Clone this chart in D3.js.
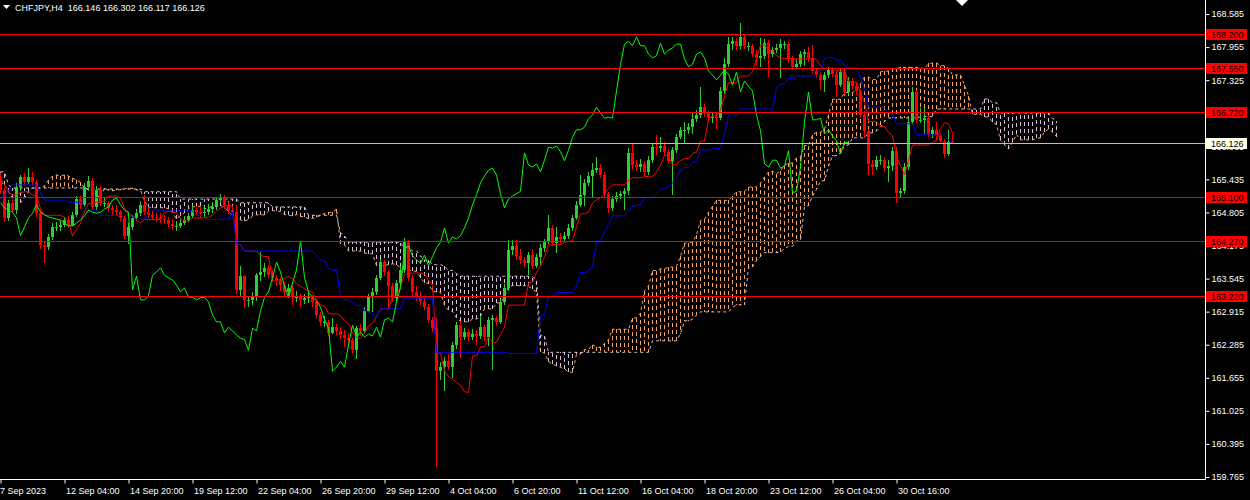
<!DOCTYPE html>
<html>
<head>
<meta charset="utf-8">
<script src="https://cdn.jsdelivr.net/npm/d3@7"></script>
<style>
html, body { margin: 0; padding: 0; background: #000; overflow: hidden; }
svg { display: block; }
text { font-family: "Liberation Sans", Arial, sans-serif; font-size: 9px; }
</style>
</head>
<body>
<div id="chart"></div>
<script>
// CHFJPY H4 bars (open = previous close)
const symbol = 'CHFJPY,H4'
const lastOHLC = [166.146, 166.302, 166.117, 166.126]
const firstOpen = 165.48

const closes = [
  165.23,164.70,164.99,164.85,165.29,165.48,165.39,165.48,165.39,164.79,
  164.18,164.15,164.34,164.53,164.53,164.57,164.66,164.57,164.76,165.06,
  164.95,165.29,165.40,164.91,165.23,164.99,164.99,164.89,164.85,164.81,
  164.70,164.36,164.53,164.70,164.79,164.95,164.81,164.76,164.72,164.70,
  164.68,164.66,164.59,164.55,164.55,164.60,164.66,164.74,164.85,164.81,
  164.79,164.81,164.87,164.91,165.04,165.08,164.95,164.85,164.81,163.33,
  163.59,163.14,163.14,163.21,163.61,163.67,163.75,163.61,163.56,163.52,
  163.42,163.29,163.37,163.19,163.19,163.14,163.18,163.19,163.10,162.85,
  162.72,162.72,162.51,162.62,162.55,162.47,162.41,162.38,162.18,162.60,
  162.55,162.93,163.19,163.29,163.56,163.86,163.67,163.40,163.18,163.46,
  163.71,164.26,163.56,163.29,163.19,163.12,163.00,162.76,162.60,161.78,
  161.86,161.97,161.86,162.28,162.66,162.43,162.53,162.43,162.49,162.45,
  162.62,162.43,162.76,162.79,162.72,163.10,163.37,164.09,164.17,163.98,
  163.90,163.84,163.99,163.79,163.96,164.13,164.24,164.51,164.22,164.34,
  164.30,164.36,164.51,164.70,164.95,165.14,165.37,165.50,165.61,165.65,
  165.52,165.16,164.89,165.06,165.12,165.16,165.21,165.94,165.71,165.67,
  165.73,165.58,165.80,166.05,166.03,166.07,165.96,165.79,165.99,166.24,
  166.38,166.38,166.43,166.59,166.66,166.81,166.70,166.60,166.62,166.60,
  167.12,167.63,168.01,168.07,167.98,168.15,167.98,167.98,167.82,167.75,
  167.79,168.03,167.82,167.90,167.94,168.01,168.01,167.73,167.58,167.63,
  167.82,167.86,167.75,167.50,167.42,167.33,167.42,167.52,167.44,167.23,
  167.48,167.10,167.31,167.21,167.12,166.66,166.36,165.73,165.67,165.80,
  165.80,165.65,165.69,165.98,165.18,165.21,165.67,166.53,167.10,166.57,
  166.57,166.60,166.30,166.38,166.26,166.17,165.92,166.146,166.126
]

const highs = [
  165.55,165.28,165.05,165.06,165.36,165.52,165.55,165.65,165.58,165.42,
  164.86,164.25,164.40,164.60,164.62,164.66,164.72,164.74,164.82,165.12,
  165.12,165.36,165.50,165.46,165.30,165.31,165.10,165.02,164.95,164.94,
  164.86,164.74,164.60,164.76,164.88,165.02,165.14,164.90,164.84,164.80,
  164.80,164.76,164.72,164.66,164.64,164.68,164.74,164.80,164.94,164.92,
  164.90,164.92,164.96,165.00,165.10,165.16,165.14,165.00,164.92,164.95,
  163.78,163.62,163.22,163.28,163.66,164.05,163.85,163.80,163.70,163.62,
  163.58,163.48,163.44,163.42,163.30,163.26,163.26,163.28,163.24,163.14,
  162.90,162.84,162.76,162.80,162.68,162.62,162.56,162.50,162.42,162.64,
  162.68,163.00,163.26,163.36,163.62,163.92,163.90,163.70,163.46,163.52,
  163.78,164.32,164.28,163.62,163.40,163.30,163.18,163.06,162.82,162.79,
  161.95,162.05,162.10,162.34,162.72,162.74,162.60,162.58,162.58,162.56,
  162.84,162.66,162.82,162.86,162.84,163.16,163.44,164.28,164.28,164.28,
  164.10,163.96,164.06,164.10,164.02,164.20,164.30,164.76,164.56,164.52,
  164.42,164.44,164.58,164.76,165.02,165.52,165.44,165.58,165.74,165.86,
  165.72,165.58,165.20,165.12,165.20,165.22,165.28,166.03,166.13,165.80,
  165.82,165.78,165.88,166.12,166.28,166.24,166.14,166.02,166.06,166.30,
  166.44,166.52,166.50,166.72,166.76,167.19,166.88,166.74,166.70,166.72,
  167.20,167.75,168.15,168.14,168.12,168.41,168.20,168.06,168.02,167.90,
  168.12,168.10,168.09,167.96,168.02,168.10,168.08,168.05,167.78,167.72,
  167.88,167.92,167.95,168.00,167.56,167.50,167.48,167.58,167.58,167.50,
  167.56,167.56,167.38,167.36,167.28,167.16,166.74,166.40,165.80,165.88,
  165.90,165.86,165.80,166.05,166.06,165.28,165.74,166.60,167.19,167.14,
  166.80,166.79,166.66,166.44,166.52,166.32,166.20,166.38,166.302
]

const lows = [
  165.15,164.62,164.64,164.80,164.78,165.22,165.33,165.34,165.30,164.72,
  164.10,163.85,164.08,164.28,164.45,164.46,164.52,164.50,164.54,164.72,
  164.88,164.90,165.22,164.85,164.86,164.92,164.90,164.82,164.74,164.74,
  164.64,164.30,164.20,164.48,164.64,164.74,164.76,164.70,164.66,164.62,
  164.60,164.58,164.52,164.48,164.46,164.50,164.56,164.62,164.70,164.74,
  164.70,164.72,164.76,164.80,164.86,164.98,164.88,164.78,164.76,163.25,
  163.22,162.98,163.00,163.05,163.12,163.50,163.58,163.55,163.48,163.40,
  163.30,163.20,163.22,163.04,163.10,163.00,163.06,163.08,163.00,162.80,
  162.64,162.62,162.46,162.48,162.47,162.40,162.24,162.28,162.12,162.02,
  162.45,162.50,162.90,162.90,163.24,163.52,163.60,162.98,163.10,163.12,
  163.40,163.66,163.50,163.22,163.12,163.04,162.94,162.70,162.52,159.96,
  161.62,161.40,161.80,161.65,162.20,162.03,162.38,162.36,162.38,162.28,
  162.40,162.36,162.26,161.80,162.64,162.68,163.04,163.30,164.00,163.90,
  163.82,163.76,163.62,163.72,163.74,163.78,164.06,164.20,164.16,164.04,
  164.22,164.24,164.30,164.46,164.66,164.90,164.92,165.30,165.10,165.56,
  165.46,165.10,164.80,164.84,165.00,165.06,164.86,165.14,165.64,165.60,
  165.58,165.50,165.52,165.74,165.90,165.96,165.90,165.72,165.14,165.94,
  166.20,166.10,166.30,166.30,166.52,166.60,166.62,166.54,166.50,166.40,
  166.56,167.06,167.58,167.90,167.90,167.92,167.92,167.88,167.76,167.62,
  167.58,167.72,167.38,167.76,167.84,167.36,167.92,167.66,167.52,167.54,
  167.58,167.60,167.68,167.44,167.36,167.14,167.10,167.36,167.38,167.00,
  167.20,167.04,167.04,167.14,167.04,166.60,166.22,165.52,165.52,165.62,
  165.70,165.58,165.38,165.60,164.99,165.10,165.16,165.62,166.48,166.50,
  166.50,166.30,166.24,166.22,166.18,166.10,165.84,165.88,166.117
]

// Ichimoku values at the left edge, whose windows reach before the first bar
const tenkanLead = [165.46,165.33,165.20,165.14,165.14,165.18,165.20,165.20]
const kijunLead = [165.08,165.12,165.23,165.33,165.33,165.33,165.33,165.33,165.33,165.33,
  165.18,165.04,165.04,165.04,165.04,165.04,165.04,165.00,165.00,165.00,165.00,164.93,164.85,164.85,164.85]
const spanALead = [165.39,165.33,165.20,165.08,165.00,164.99,165.08,165.20,165.27,165.27,
  165.27,165.31,165.42,165.50,165.52,165.50,165.52,165.50,165.46,165.42,165.38,165.27,165.23,165.20,165.14,165.08]
const spanBLead = [165.58,165.58,165.33,165.27,165.27,165.27,165.27,165.27,165.27,165.27,
  165.27,165.27,165.27,165.27,165.27,165.27,165.27,165.27,165.27,165.27,165.27,165.27,
  165.25,165.25,165.25,165.25,165.25,165.25,165.25,165.25,165.25,165.25,165.25,165.25,165.25,165.25,
  165.20,165.20,165.20,165.20,165.20,165.20,165.20,165.20,165.20,
  165.06,165.06,165.06,165.06,165.06,165.06,165.06,165.06,165.06,165.06,165.06,165.06,165.06,165.06,165.06,
  164.99,164.99,164.99,164.99,164.99,164.99,164.99,164.99,
  164.91,164.91,164.91,164.91,164.91,164.91,164.91,164.91,164.91]

const levels = [168.200, 167.550, 166.720, 165.100, 164.270, 163.220]
const priceTicks = [168.585, 167.955, 167.325, 166.695, 166.065, 165.435, 164.805, 164.175,
  163.545, 162.915, 162.285, 161.655, 161.025, 160.395, 159.765]
const dateTicks = [0, 16, 32, 48, 64, 80, 96, 112, 128, 144, 160, 176, 192, 208, 224]
const dateLabels = ['7 Sep 2023', '12 Sep 04:00', '14 Sep 20:00', '19 Sep 12:00', '22 Sep 04:00',
  '26 Sep 20:00', '29 Sep 12:00', '4 Oct 04:00', '6 Oct 20:00', '11 Oct 12:00', '16 Oct 04:00',
  '18 Oct 20:00', '23 Oct 12:00', '26 Oct 04:00', '30 Oct 16:00']

const w = 1250
const h = 500
const plotW = 1205
const plotH = 479
const bullColor = '#32cd32'
const bearColor = '#ff0000'

const xScale = d3.scaleLinear().domain([0, 300]).range([0, 1200])
const yScale = d3.scaleLinear().domain([159.727, 168.852]).range([plotH, 0])

const bars = closes.map((c, i) => ({
  i, o: i ? closes[i - 1] : firstOpen, h: highs[i], l: lows[i], c
}))

function mid(from, to) {
  let hi = -Infinity, lo = Infinity
  for (let k = from; k <= to; k++) {
    hi = Math.max(hi, highs[k])
    lo = Math.min(lo, lows[k])
  }
  return (hi + lo) / 2
}

const tenkan = bars.map(d => d.i >= 8 ? mid(d.i - 8, d.i) : tenkanLead[d.i])
const kijun = bars.map(d => d.i >= 25 ? mid(d.i - 25, d.i) : kijunLead[d.i])
const cloud = d3.range(bars.length + 26).map(j => ({
  i: j,
  a: j < 26 ? spanALead[j] : (tenkan[j - 26] + kijun[j - 26]) / 2,
  b: j < 77 ? spanBLead[j] : mid(j - 77, j - 26)
}))
const chikou = d3.range(bars.length - 26).map(i => ({ i, v: closes[i + 26] }))

const svg = d3.select('#chart')
  .append('svg')
  .attr('width', w)
  .attr('height', h)

svg.append('rect').attr('width', w).attr('height', h).attr('fill', '#000')

svg.append('clipPath').attr('id', 'plot')
  .append('rect').attr('width', plotW).attr('height', plotH)

const plot = svg.append('g').attr('clip-path', 'url(#plot)')

// cloud hatch, one dotted column per bar
plot.append('g')
  .selectAll('line')
  .data(cloud)
  .join('line')
  .attr('x1', d => xScale(d.i) + 0.5)
  .attr('x2', d => xScale(d.i) + 0.5)
  .attr('y1', d => yScale(d.a))
  .attr('y2', d => yScale(d.b))
  .attr('stroke', d => d.a >= d.b ? '#f4a460' : '#d8bfd8')
  .attr('stroke-dasharray', '4,3')
  .attr('shape-rendering', 'crispEdges')

const line = d3.line().x(d => xScale(d.i) + 0.5).y(d => yScale(d.v))

plot.append('path')
  .attr('d', line(cloud.map(d => ({ i: d.i, v: d.a }))))
  .attr('fill', 'none').attr('stroke', '#f4a460').attr('stroke-dasharray', '3,3')
plot.append('path')
  .attr('d', line(cloud.map(d => ({ i: d.i, v: d.b }))))
  .attr('fill', 'none').attr('stroke', '#d8bfd8').attr('stroke-dasharray', '3,3')

// candles
const candles = plot.append('g').attr('shape-rendering', 'crispEdges')
candles.selectAll('line')
  .data(bars)
  .join('line')
  .attr('x1', d => xScale(d.i) + 0.5)
  .attr('x2', d => xScale(d.i) + 0.5)
  .attr('y1', d => yScale(d.h))
  .attr('y2', d => yScale(d.l))
  .attr('stroke', d => d.c >= d.o ? bullColor : bearColor)
candles.selectAll('rect')
  .data(bars)
  .join('rect')
  .attr('x', d => xScale(d.i) - 1)
  .attr('width', 3)
  .attr('y', d => yScale(Math.max(d.o, d.c)))
  .attr('height', d => Math.max(1, Math.abs(yScale(d.o) - yScale(d.c))))
  .attr('fill', d => d.c >= d.o ? bullColor : bearColor)

// tenkan, kijun, chikou
plot.append('path')
  .attr('d', line(tenkan.map((v, i) => ({ i, v }))))
  .attr('fill', 'none').attr('stroke', '#ff0000')
plot.append('path')
  .attr('d', line(kijun.map((v, i) => ({ i, v }))))
  .attr('fill', 'none').attr('stroke', '#0000ff')
plot.append('path')
  .attr('d', line(chikou))
  .attr('fill', 'none').attr('stroke', '#00ff00')

// horizontal levels and bid line
plot.append('g')
  .selectAll('line')
  .data(levels)
  .join('line')
  .attr('x1', 0).attr('x2', plotW)
  .attr('y1', d => Math.round(yScale(d)) + 0.5)
  .attr('y2', d => Math.round(yScale(d)) + 0.5)
  .attr('stroke', '#ff0000')
plot.append('line')
  .attr('x1', 0).attr('x2', plotW)
  .attr('y1', Math.round(yScale(lastOHLC[3])) + 0.5)
  .attr('y2', Math.round(yScale(lastOHLC[3])) + 0.5)
  .attr('stroke', '#c0c0c0')

// axes
const yAxis = d3.axisRight(yScale)
  .tickValues(priceTicks)
  .tickFormat(d3.format('.3f'))
  .tickSize(4)
  .tickPadding(2)
  .tickSizeOuter(0)
const gy = svg.append('g').attr('transform', `translate(${plotW + 0.5},0)`).call(yAxis)
gy.select('.domain').remove()
gy.selectAll('line').attr('stroke', '#fff')
gy.selectAll('text').attr('fill', '#fff').style('font-size', '9px')
  .style('font-family', '"Liberation Sans", Arial, sans-serif')

const xAxis = d3.axisBottom(xScale)
  .tickValues(dateTicks)
  .tickFormat((d, i) => dateLabels[i])
  .tickSize(4)
  .tickSizeOuter(0)
const gx = svg.append('g').attr('transform', `translate(0.5,${plotH + 0.5})`).call(xAxis)
gx.select('.domain').remove()
gx.selectAll('line').attr('stroke', '#fff')
gx.selectAll('text').attr('fill', '#fff').attr('text-anchor', 'start')
  .attr('x', (d, i) => i ? 1 : -1).attr('y', 8)
  .style('font-size', '9px')
  .style('font-family', '"Liberation Sans", Arial, sans-serif')

svg.append('line').attr('x1', plotW + 0.5).attr('x2', plotW + 0.5).attr('y1', 0).attr('y2', plotH + 0.5)
  .attr('stroke', '#fff')
svg.append('line').attr('x1', 0).attr('x2', plotW + 0.5).attr('y1', plotH + 0.5).attr('y2', plotH + 0.5)
  .attr('stroke', '#fff')

// price tags on the scale
const tags = svg.append('g')
levels.forEach(v => {
  const y = Math.round(yScale(v))
  tags.append('rect').attr('x', plotW + 1).attr('y', y - 5).attr('width', 41).attr('height', 11)
    .attr('fill', '#ff0000')
  tags.append('text').attr('x', plotW + 6).attr('y', y + 4).attr('fill', '#000')
    .text(d3.format('.3f')(v))
})
{
  const y = Math.round(yScale(lastOHLC[3]))
  tags.append('rect').attr('x', plotW + 1).attr('y', y - 5).attr('width', 41).attr('height', 11)
    .attr('fill', '#ffffe8')
  tags.append('text').attr('x', plotW + 6).attr('y', y + 4).attr('fill', '#000')
    .text(d3.format('.3f')(lastOHLC[3]))
}

// header
svg.append('path').attr('d', 'M3,5 L10,5 L6.5,9 Z').attr('fill', '#fff')
svg.append('text').attr('x', 15).attr('y', 11).attr('fill', '#fff')
  .style('white-space', 'pre')
  .text(symbol + '  ' + lastOHLC.map(d3.format('.3f')).join(' '))

// chart shift marker
svg.append('path').attr('d', 'M956,0 L968,0 L962,6 Z').attr('fill', '#fff')
</script>
</body>
</html>
